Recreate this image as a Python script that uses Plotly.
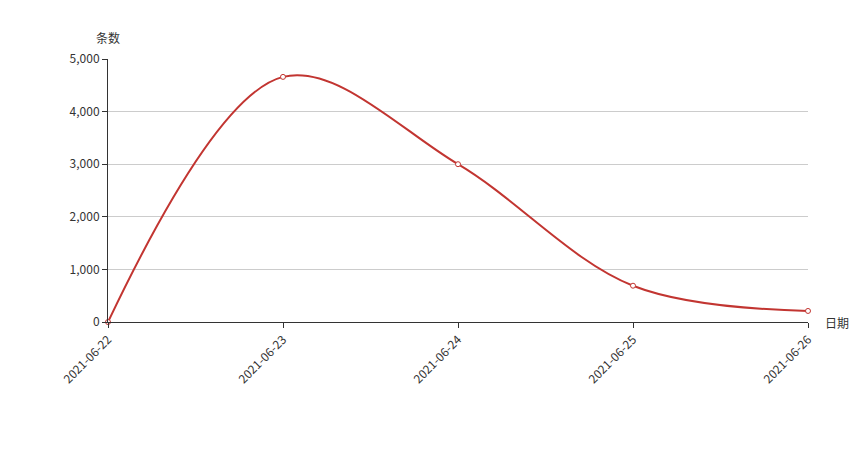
import plotly.graph_objects as go

dates = ["2021-06-22", "2021-06-23", "2021-06-24", "2021-06-25", "2021-06-26"]
counts = [0, 4660, 3000, 690, 210]
y_ticks = [0, 1000, 2000, 3000, 4000, 5000]

font_family = "Noto Sans CJK SC, Noto Sans, sans-serif"

fig = go.Figure()
fig.add_trace(go.Scatter(
    x=dates, y=counts,
    mode="lines+markers",
    line=dict(color="#c23531", width=2, shape="spline", smoothing=1.0),
    marker=dict(symbol="circle", size=5, color="white",
                line=dict(color="#c23531", width=1)),
    cliponaxis=False,
    showlegend=False,
))

fig.update_layout(
    width=860, height=450,
    margin=dict(l=100, r=60, t=51, b=136),
    paper_bgcolor="white", plot_bgcolor="white",
    font=dict(family=font_family, size=12, color="#333"),
    xaxis=dict(
        type="category", range=[0, len(dates) - 1],
        showline=True, linecolor="#333", linewidth=1,
        ticks="outside", ticklen=5, tickcolor="#333",
        tickangle=-45, showgrid=False, zeroline=False,
        tickfont=dict(size=12, color="#333"),
    ),
    yaxis=dict(
        range=[0, 5000], tickvals=y_ticks, tickformat=",",
        showline=True, linecolor="#333", linewidth=1,
        ticks="outside", ticklen=5, tickcolor="#333",
        showgrid=True, gridcolor="#ccc", gridwidth=1, zeroline=False,
        tickfont=dict(size=12, color="#333"),
    ),
    annotations=[
        dict(text="条数", xref="x domain", yref="paper", x=0, y=1,
             yshift=22, showarrow=False, xanchor="center", yanchor="middle",
             font=dict(size=12, color="#333")),
        dict(text="日期", xref="paper", yref="y domain", x=1, y=0,
             xshift=15, showarrow=False, xanchor="left", yanchor="middle",
             font=dict(size=12, color="#333")),
    ],
)

fig.write_html("out.html")
